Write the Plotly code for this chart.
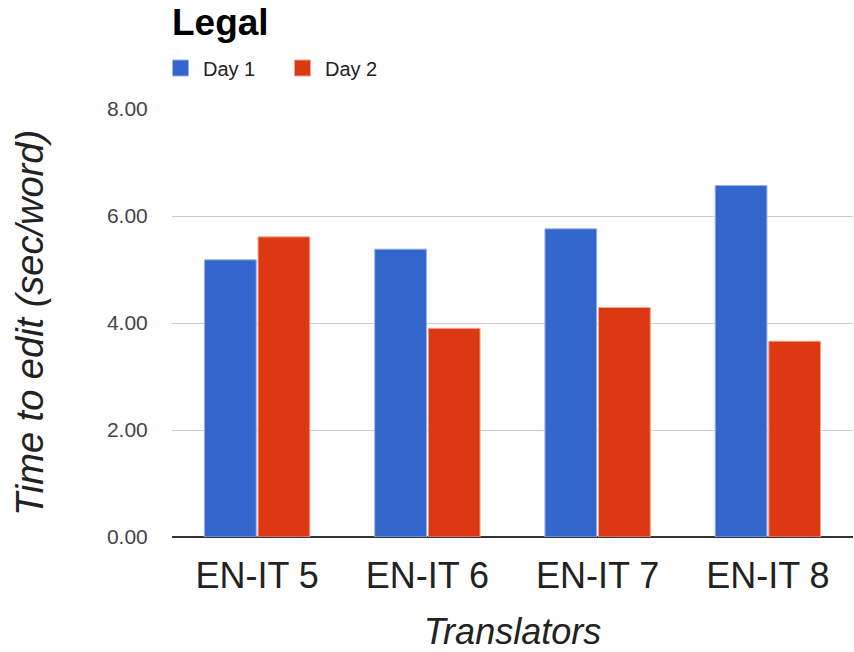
import plotly.graph_objects as go

categories = ["EN-IT 5", "EN-IT 6", "EN-IT 7", "EN-IT 8"]
day1 = [5.18, 5.38, 5.76, 6.57]
day2 = [5.61, 3.90, 4.29, 3.66]
series_names = ["Day 1", "Day 2"]
y_ticks = [0, 2, 4, 6, 8]
y_tick_labels = ["0.00", "2.00", "4.00", "6.00", "8.00"]

blue = "#3366CC"
red = "#DC3912"
FONT = "Liberation Sans, Arial, sans-serif"
H = 652
PLOT_W = 854 - 172 - 1

fig = go.Figure()
fig.add_trace(go.Bar(x=categories, y=day1, name=series_names[0], showlegend=False,
                     marker=dict(color=blue, line=dict(color="#9bb3e6", width=1))))
fig.add_trace(go.Bar(x=categories, y=day2, name=series_names[1], showlegend=False,
                     marker=dict(color=red, line=dict(color="#f0a590", width=1))))
# legend entries
for nm, col, lc in [(series_names[0], blue, "#9bb3e6"), (series_names[1], red, "#f0a590")]:
    fig.add_trace(go.Scatter(x=[None], y=[None], mode="markers", name=nm,
                             marker=dict(symbol="square", size=16, color=col,
                                         line=dict(color=lc, width=1))))

fig.update_layout(
    width=854, height=H,
    margin=dict(l=172, r=1, t=109, b=115),
    paper_bgcolor="white", plot_bgcolor="white",
    font=dict(family=FONT, color="#222222"),
    barmode="group", bargap=0.37, bargroupgap=0.035,
    title=dict(text="<b>Legal</b>", font=dict(family=FONT, size=37, color="#000000"),
               x=0, xref="paper", xanchor="left", y=1 - 22 / H, yref="container", yanchor="middle"),
    legend=dict(orientation="h", x=-14 / PLOT_W, xref="paper", xanchor="left", y=1 - 68 / H, yref="container",
                yanchor="middle", font=dict(size=20, color="#222222"),
                entrywidth=72, entrywidthmode="pixels", itemsizing="trace", itemwidth=35,
                bgcolor="rgba(0,0,0,0)"),
    xaxis=dict(tickfont=dict(size=36, color="#222222"), showgrid=False, showline=False,
               ticks="outside", ticklen=7, tickcolor="rgba(0,0,0,0)",
               title=dict(text="<i>Translators</i>", font=dict(size=36, color="#222222"), standoff=27)),
    yaxis=dict(range=[0, 8], tickvals=y_ticks, ticktext=y_tick_labels,
               tickfont=dict(size=21, color="#444444"), showgrid=True, gridcolor="#cccccc", gridwidth=1,
               zeroline=True, zerolinecolor="#333333", zerolinewidth=2, showline=False,
               ticks="outside", ticklen=19, tickcolor="rgba(0,0,0,0)",
               title=dict(text="<i>Time to edit (sec/word)</i>", font=dict(size=38, color="#222222"), standoff=51)),
)

fig.write_html("out.html", config={"displayModeBar": False},
               post_script="document.body.style.margin='0';")
